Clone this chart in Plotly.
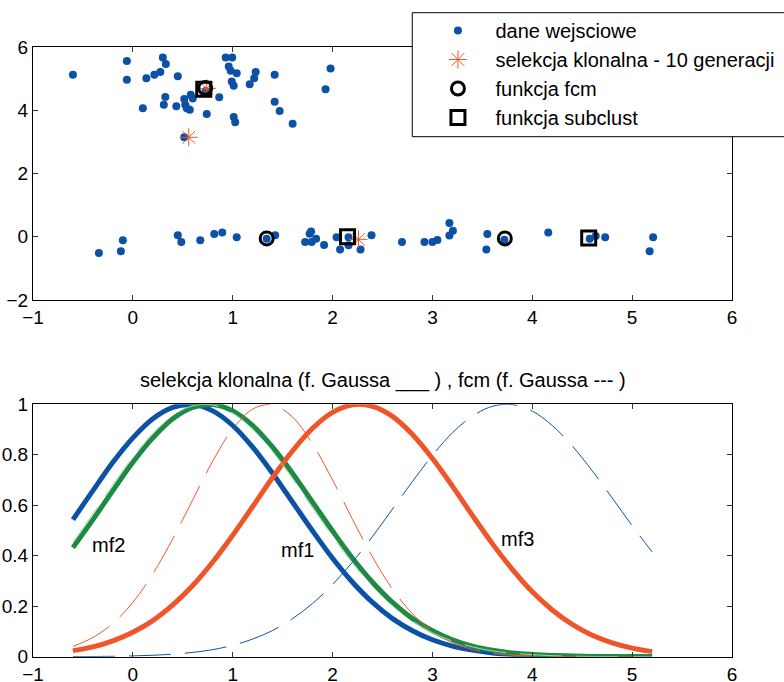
import plotly.graph_objects as go

# ---------------- data: top plot ----------------
data_x = [-0.60, -0.06, -0.06, 0.30, 0.33, 0.275, 0.215, 0.135, 0.45, 0.10, 0.31, 0.325, 0.435, 0.515,
          0.525, 0.54, 0.57, 0.58, 0.60, 0.74, 0.73, 0.865, 0.93, 0.995, 0.96, 0.98, 1.04, 0.99, 1.01,
          1.01, 1.025, 1.17, 1.215, 1.23, 1.42, 1.42, 1.47, 1.60, 1.98, 1.93, 0.515,
          -0.34, -0.12, -0.10, 0.45, 0.485, 0.675, 0.815, 0.895, 1.04, 1.34, 1.425, 1.725, 1.785, 1.77,
          1.79, 1.835, 1.915, 2.04, 2.075, 2.16, 2.16, 2.28, 2.39, 2.695, 2.92, 3.00, 3.05, 3.17, 3.205,
          3.17, 3.55, 3.54, 3.72, 4.16, 4.575, 4.635, 4.73, 5.175, 5.21]
data_y = [5.13, 5.57, 4.97, 5.68, 5.47, 5.22, 5.13, 5.02, 5.08, 4.07, 4.18, 4.43, 4.13, 4.36,
          4.18, 4.07, 4.02, 4.50, 4.38, 3.89, 4.62, 4.42, 5.68, 5.68, 5.39, 5.26, 5.18, 4.92, 4.78,
          3.79, 3.63, 4.83, 5.02, 5.22, 5.13, 4.28, 3.98, 3.58, 5.33, 4.67, 3.15,
          -0.51, -0.46, -0.11, 0.05, -0.16, -0.11, 0.09, 0.14, -0.01, -0.06, 0.05, -0.16, 0.17, 0.10,
          -0.16, -0.06, -0.26, -0.01, -0.40, -0.01, -0.27, -0.40, 0.05, -0.16, -0.16, -0.16, -0.10, 0.44, 0.19,
          0.04, 0.09, -0.40, -0.09, 0.14, -0.06, 0.03, -0.01, -0.46, -0.01]

clonal_x = [0.56, 0.74, 2.26]
clonal_y = [3.15, 4.70, -0.08]
fcm_x = [0.725, 1.34, 3.725]
fcm_y = [4.71, -0.05, -0.05]
sub_x = [0.71, 2.15, 4.565]
sub_y = [4.67, 0.00, -0.04]

legend_names = ["dane wejsciowe", "selekcja klonalna - 10 generacji", "funkcja fcm", "funkcja subclust"]

# ---------------- data: bottom plot (membership functions) ----------------
mf_x = [-0.6, -0.4, -0.2, 0.0, 0.2, 0.4, 0.6, 0.8, 1.0, 1.2, 1.4, 1.6, 1.8, 2.0, 2.2,
        2.4, 2.6, 2.8, 3.0, 3.2, 3.4, 3.6, 3.8, 4.0, 4.2, 4.4, 4.6, 4.8, 5.0, 5.2]
# clonal selection (solid)
cs_mf1 = [0.543, 0.658, 0.770, 0.867, 0.943, 0.988, 0.999, 0.974, 0.916, 0.830, 0.726, 0.612, 0.498, 0.390, 0.295,
          0.215, 0.151, 0.103, 0.067, 0.042, 0.026, 0.015, 0.009, 0.005, 0.0025, 0.0012, 0.0006, 0.0003, 0.0001, 0.0]
cs_mf2 = [0.432, 0.543, 0.658, 0.770, 0.867, 0.943, 0.988, 0.999, 0.974, 0.916, 0.830, 0.726, 0.612, 0.498, 0.390,
          0.295, 0.215, 0.151, 0.103, 0.067, 0.042, 0.026, 0.015, 0.009, 0.005, 0.0025, 0.0012, 0.0006, 0.0003, 0.0001]
cs_mf3 = [0.024, 0.039, 0.063, 0.097, 0.143, 0.205, 0.282, 0.375, 0.481, 0.595, 0.710, 0.816, 0.905, 0.968, 0.998,
          0.992, 0.952, 0.880, 0.785, 0.676, 0.560, 0.448, 0.346, 0.257, 0.185, 0.128, 0.085, 0.055, 0.034, 0.020]
# fcm (dashed)
fcm_mf_red = [0.041, 0.076, 0.132, 0.215, 0.328, 0.467, 0.622, 0.775, 0.902, 0.981, 0.998, 0.949, 0.843, 0.700, 0.544,
              0.395, 0.268, 0.170, 0.101, 0.056, 0.029, 0.014, 0.006, 0.003, 0.001, 0.0004, 0.0001, 0.0, 0.0, 0.0]
fcm_mf_blue = [0.0004, 0.0008, 0.0016, 0.0031, 0.0056, 0.010, 0.017, 0.028, 0.045, 0.070, 0.104, 0.151, 0.211, 0.286, 0.375,
               0.476, 0.585, 0.694, 0.798, 0.887, 0.953, 0.992, 0.999, 0.973, 0.916, 0.835, 0.737, 0.629, 0.519, 0.415]
fcm_mf_green = [0.454, 0.566, 0.681, 0.791, 0.885, 0.955, 0.994, 0.997, 0.965, 0.901, 0.811, 0.704, 0.589, 0.476, 0.370,
                0.278, 0.201, 0.141, 0.095, 0.062, 0.039, 0.023, 0.014, 0.008, 0.004, 0.002, 0.001, 0.0005, 0.0002, 0.0001]

mf_labels = ["mf2", "mf1", "mf3"]
mf_label_x = [-0.245, 1.645, 3.855]
mf_label_y = [0.443, 0.423, 0.466]

title2 = "selekcja klonalna (f. Gaussa ___ ) , fcm (f. Gaussa --- )"

BLUE = "#0b51a6"
GREEN = "#1f8a43"
RED = "#f0552a"
FONT = "Liberation Sans, Arial, sans-serif"
FS_TICK = 19
FS_TXT = 20

fig = go.Figure()

# top plot
fig.add_trace(go.Scatter(x=data_x, y=data_y, mode="markers", name=legend_names[0],
                         marker=dict(color=BLUE, size=8), legendgroup="a",
                         xaxis="x", yaxis="y"))
fig.add_trace(go.Scatter(x=clonal_x, y=clonal_y, mode="markers", name=legend_names[1],
                         marker=dict(symbol="asterisk-open", size=15, color=RED,
                                     line=dict(color=RED, width=1)), legendgroup="b",
                         xaxis="x", yaxis="y"))
fig.add_trace(go.Scatter(x=fcm_x, y=fcm_y, mode="markers", name=legend_names[2],
                         marker=dict(symbol="circle-open", size=13, color="black",
                                     line=dict(color="black", width=3)), legendgroup="c",
                         xaxis="x", yaxis="y"))
fig.add_trace(go.Scatter(x=sub_x, y=sub_y, mode="markers", name=legend_names[3],
                         marker=dict(symbol="square-open", size=14, color="black",
                                     line=dict(color="black", width=3)), legendgroup="d",
                         xaxis="x", yaxis="y"))

# bottom plot - solid (clonal selection)
for yv, col in [(cs_mf1, BLUE), (cs_mf2, GREEN), (cs_mf3, RED)]:
    fig.add_trace(go.Scatter(x=mf_x, y=yv, mode="lines", showlegend=False,
                             line=dict(color=col, width=5, shape="spline"),
                             xaxis="x2", yaxis="y2"))
# bottom plot - dashed (fcm)
for yv, col in [(fcm_mf_red, RED), (fcm_mf_blue, BLUE), (fcm_mf_green, "#9fd8ad")]:
    fig.add_trace(go.Scatter(x=mf_x, y=yv, mode="lines", showlegend=False,
                             line=dict(color=col, width=1, dash="42px,14px", shape="spline"),
                             xaxis="x2", yaxis="y2"))

for t, xx, yy in zip(mf_labels, mf_label_x, mf_label_y):
    fig.add_annotation(x=xx, y=yy, xref="x2", yref="y2", text=t, showarrow=False,
                       font=dict(family=FONT, size=FS_TXT, color="black"))

W, H = 784, 682
L, R = 32.5, 732.5
PW = R - L

def pdom(top, bottom):
    return [1 - bottom / H, 1 - top / H]

def px_x(p):
    return (p - L) / PW

def px_y(p):
    return 1 - p / H

axis_common = dict(showline=True, linecolor="black", linewidth=1, mirror="ticks",
                   ticks="inside", ticklen=5, tickcolor="#333", tickwidth=1,
                   showgrid=False, zeroline=False, automargin=False,
                   tickfont=dict(family=FONT, size=FS_TICK, color="black"))

fig.add_annotation(x=0.5, y=px_y(380.7), xref="paper", yref="paper", text=title2,
                   showarrow=False, yanchor="middle",
                   font=dict(family=FONT, size=FS_TXT, color="black"))

# legend box (frame drawn as shape so the inner padding matches)
fig.add_shape(type="rect", xref="paper", yref="paper", layer="above",
              x0=px_x(412.3), x1=px_x(820), y0=px_y(136.7), y1=px_y(12.7),
              fillcolor="white", line=dict(color="black", width=1))

fig.update_layout(
    width=W, height=H,
    template="none",
    paper_bgcolor="white", plot_bgcolor="white",
    margin=dict(l=L, r=W - R, t=0, b=0, pad=0, autoexpand=False),
    font=dict(family=FONT, size=FS_TICK, color="black"),
    xaxis=dict(domain=[0, 1], range=[-1, 6], tickvals=[-1, 0, 1, 2, 3, 4, 5, 6], anchor="y", **axis_common),
    yaxis=dict(domain=pdom(47.3, 300), range=[-2, 6], tickvals=[-2, 0, 2, 4, 6], anchor="x", **axis_common),
    xaxis2=dict(domain=[0, 1], range=[-1, 6], tickvals=[-1, 0, 1, 2, 3, 4, 5, 6], anchor="y2", **axis_common),
    yaxis2=dict(domain=pdom(404.3, 656.7), range=[0, 1], tickvals=[0, 0.2, 0.4, 0.6, 0.8, 1],
                ticktext=["0", "0.2", "0.4", "0.6", "0.8", "1"], anchor="x2", **axis_common),
    legend=dict(x=px_x(420.5), y=px_y(11), xanchor="left", yanchor="top",
                bgcolor="rgba(0,0,0,0)", borderwidth=0,
                font=dict(family=FONT, size=FS_TXT, color="black"),
                itemwidth=65, tracegroupgap=0),
    showlegend=True,
)

fig.write_html("out.html",
               config={"displayModeBar": False},
               post_script="document.body.style.margin='0';document.body.style.overflow='hidden';")
